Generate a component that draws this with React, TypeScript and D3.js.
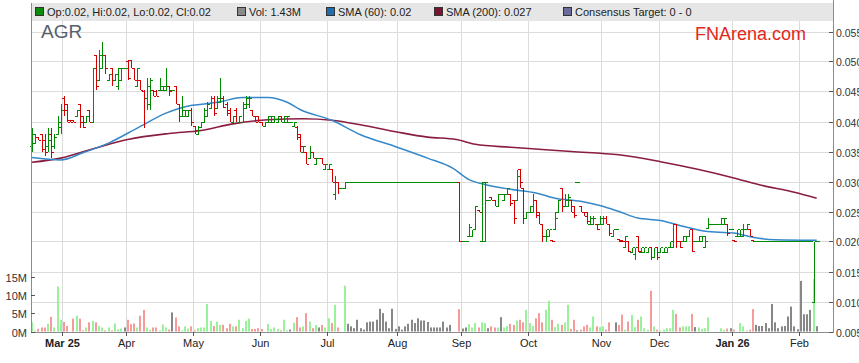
import { useEffect, useRef } from 'react'
import * as d3 from 'd3'

// daily bars, [open, high, low, close] in thousandths of a dollar (35 = $0.035)
const bars: number[][] = [
  [36, 39, 35, 38], [36.5, 38, 36.5, 37.5], [37.5, 37.5, 37, 37], [38, 38, 35, 35.5], [37, 38, 34.2, 35], [36, 39, 35, 37], [38, 39, 34, 35], [36, 38, 35.5, 37.5], [38, 41, 38, 40], [39, 43, 38, 42],
  [44, 44.2, 41, 42], [43, 43, 40, 40], [40.2, 40.2, 40, 40], [40.2, 40.2, 40, 40], [41, 42, 41, 42], [43, 43, 39, 40], [41, 41, 39, 39], [40, 41, 40, 41], [42, 42, 40, 40], [40, 49, 40, 49],
  [51, 51, 45.3, 46], [47, 52, 47, 51], [49, 53.3, 49, 51], [51, 51, 48, 49], [47, 48, 47, 48], [49, 49, 46, 47], [47, 48, 47, 48], [46, 49, 45.3, 49], [47, 49, 47, 49], [49, 49, 49, 49],
  [50, 50.3, 47, 47.2], [50.3, 50.3, 49, 49], [49, 49, 47, 47], [46, 49, 46, 49], [47, 47, 45.3, 45.3], [45, 45.3, 39, 44], [44, 47.2, 42, 46], [43, 47.2, 42, 47], [45.3, 45.3, 44.2, 44.2], [45, 45.3, 44.2, 44.2],
  [45.3, 47.2, 45.3, 46], [45.3, 46, 45.3, 46], [45.3, 49, 45.3, 46], [46, 46, 44.2, 45], [45.3, 45.3, 45.3, 45.3], [46, 46, 43, 43], [43, 43, 40, 41], [41, 44.2, 41, 42], [41, 42, 41, 42], [41, 42, 41, 42],
  [42, 42.2, 39.2, 40], [39.2, 39.2, 38, 38.5], [38, 39.2, 38, 39], [39, 40, 39, 40], [40, 42.2, 40, 42], [41, 43.2, 41, 43], [42.2, 44.2, 42.2, 44], [44, 44.2, 41, 41.5], [42.2, 44.2, 42.2, 44], [43.2, 47.2, 43.2, 44],
  [44, 44.2, 42.2, 42.5], [43, 43.2, 41, 41.5], [42, 42.2, 40, 40], [40, 41, 40, 41], [42, 42.2, 40, 40], [40, 41, 40, 41], [40, 43.2, 40, 43], [42.2, 44.2, 42.2, 44], [43, 44.2, 42.2, 44], [42, 42, 41, 41],
  [41, 41, 40, 40], [41, 41, 40, 40], [40, 40, 39.2, 39.2], [39.2, 40, 39.2, 40], [40, 41, 40, 41], [40, 41, 40, 41], [40, 41, 40, 40.5], [40, 41, 40, 41], [41, 41, 40, 40], [40, 41, 40, 41],
  [40, 41, 40, 41], [40, 40, 40, 40], [39.2, 40, 39.2, 40], [39, 39.2, 37, 37.5], [38, 38, 35, 36], [35, 36, 35, 36], [35, 35, 33, 33], [34, 36, 33.9, 35], [35, 35, 33.9, 34], [33, 34, 33, 34],
  [34, 34, 34, 34], [34, 34, 33, 33], [32, 33, 32, 33], [32, 33, 32, 33], [32, 32, 30, 30], [28, 31, 27, 30], [30, 30, 28, 29], [29, 29, 29, 29], [29, 30, 29, 30], [30, 30, 30, 30],
  [30, 30, 30, 30], [30, 30, 30, 30], [30, 30, 30, 30], [30, 30, 30, 30], [30, 30, 30, 30], [30, 30, 30, 30], [30, 30, 30, 30], [30, 30, 30, 30], [30, 30, 30, 30], [30, 30, 30, 30],
  [30, 30, 30, 30], [30, 30, 30, 30], [30, 30, 30, 30], [30, 30, 30, 30], [30, 30, 30, 30], [30, 30, 30, 30], [30, 30, 30, 30], [30, 30, 30, 30], [30, 30, 30, 30], [30, 30, 30, 30],
  [30, 30, 30, 30], [30, 30, 30, 30], [30, 30, 30, 30], [30, 30, 30, 30], [30, 30, 30, 30], [30, 30, 30, 30], [30, 30, 30, 30], [30, 30, 30, 30], [30, 30, 30, 30], [30, 30, 30, 30],
  [30, 30, 30, 30], [30, 30, 30, 30], [30, 30, 30, 30], [30, 30, 30, 30], [30, 30, 20, 20], [20, 20, 20, 20], [20, 20, 20, 20], [21, 23, 21, 22.5], [21, 22, 21, 22], [22, 26, 22, 26],
  [25.2, 25.2, 25, 25], [20, 30, 20, 30], [20, 30, 20, 30], [27, 27, 27, 27], [27.5, 27.5, 27, 27], [27, 27, 26, 26], [26, 28, 26, 28], [28, 28, 28, 28], [27, 28, 27, 28], [28, 29, 28, 29],
  [28, 28, 26, 26.5], [27, 27, 23, 24], [27, 32, 27, 31], [32, 32, 29, 30], [29, 29, 23, 24], [24, 25, 24, 25], [25, 26, 25, 26], [25, 28, 25, 27], [27, 27, 24, 24.5], [25, 25, 23, 23],
  [23, 23, 20, 21], [21, 22, 20, 22], [21, 22, 21, 22], [20.2, 20.2, 20, 20], [22, 25, 22, 24], [25, 27, 25, 27], [29, 29, 25, 26], [26, 28, 26, 27], [26, 28, 26, 27.5], [27, 27, 25, 25],
  [26, 26, 24, 24.5], [30, 30, 30, 30], [26, 26, 25, 25], [25, 25, 24.2, 24.2], [25, 25, 23, 23.5], [23, 24.2, 23, 24], [23, 24.2, 23, 24], [23, 23, 22, 22], [23, 24.2, 23, 24], [23, 24.2, 23, 24],
  [24, 24.2, 23, 23], [23, 23, 21, 21.5], [21, 22, 21, 22], [22, 22, 22, 22], [20.5, 20.5, 20, 20], [20.2, 20.2, 20, 20], [19, 21, 19, 21], [20, 20, 18.2, 18.5], [18.2, 19, 18.2, 19], [18, 19, 17, 19],
  [21, 21, 18.2, 18.5], [18.2, 19, 18.2, 19], [18.2, 19, 18.2, 19], [18.2, 19, 18.2, 19], [19, 19, 17, 17.5], [17.5, 19, 17.5, 19], [19, 19, 17, 17.5], [18.2, 19, 18.2, 19], [18.2, 19, 18.2, 19], [18.2, 19, 18.2, 19],
  [19, 20, 19, 20], [19, 23, 19, 23], [23, 23, 19, 20], [20, 20, 19, 19], [20, 21, 20, 21], [20, 21, 20, 21], [21, 22, 21, 22], [22, 22, 18.2, 18.5], [20, 20, 20, 20], [20, 21, 20, 21],
  [20, 21, 20, 21], [19, 21, 19, 20], [22.2, 24, 22.2, 23], [23, 23, 23, 23], [23, 23, 23, 23], [23, 23, 23, 23], [23, 24, 23, 24], [23, 24, 23, 24], [23, 23, 21, 21.5], [22, 22, 22, 22],
  [20.2, 20.2, 20, 20], [21, 22, 21, 22], [21, 22, 21, 22], [21, 23, 21, 22], [22, 23, 22, 23], [22, 22, 21, 21], [20.2, 20.2, 20, 20], [20, 20, 20, 20], [20, 20, 20, 20], [20, 20, 20, 20],
  [20, 20, 20, 20], [20, 20, 20, 20], [20, 20, 20, 20], [20, 20, 20, 20], [20, 20, 20, 20], [20, 20, 20, 20], [20, 20, 20, 20], [20, 20, 20, 20], [20, 20, 20, 20], [20, 20, 20, 20],
  [20, 20, 20, 20], [20, 20, 20, 20], [20, 20, 20, 20], [20, 20, 20, 20], [20, 20, 20, 20], [10, 20, 10, 20], [20, 20, 20, 20],
]

// daily volume, millions of shares
const volumes: number[] = [
  2.5, 0.3, 0.7, 1.1, 1.1, 2.1, 4.0, 1.1, 12.3, 3.2,
  2.6, 1.5, 0, 3.5, 4.3, 3.5, 0.3, 1.1, 2.5, 2.9,
  2.5, 1.5, 1.1, 0.3, 1.1, 0.3, 2.2, 0.6, 0.8, 1.1,
  3.2, 2.0, 2.2, 1.1, 4.3, 5.9, 1.1, 0.5, 1.1, 1.1,
  0.3, 1.9, 1.1, 0.5, 5.2, 3.8, 1.4, 0.3, 1.4, 0.8,
  1.4, 0.3, 0.9, 1.1, 1.1, 7.5, 2.9, 1.5, 2.7, 1.8,
  1.8, 0.9, 2.1, 1.4, 1.4, 3.2, 0.9, 2.9, 3.5, 0.7,
  0.7, 0.9, 0.7, 0, 2.1, 0.7, 1.1, 0.7, 0.3, 3.2,
  0.3, 0.5, 2.4, 3.9, 1.1, 1.4, 5.0, 2.7, 0.9, 1.8,
  1.1, 1.8, 1.1, 3.6, 2.3, 7.3, 1.1, 0, 12.5, 2.1,
  1.4, 0.9, 3.2, 0.9, 0.5, 2.5, 2.7, 2.7, 3.2, 6.2,
  5.0, 2.7, 0.9, 6.2, 0.7, 1.4, 0.5, 1.4, 2.1, 3.2,
  2.3, 3.6, 3.0, 3.0, 2.6, 1.1, 1.1, 1.1, 1.1, 2.7,
  1.1, 1.8, 0, 0, 6.1, 0.8, 1.1, 2.0, 1.1, 2.3,
  1.1, 2.5, 2.3, 0.9, 1.4, 1.1, 1.1, 3.9, 1.1, 1.5,
  2.1, 1.8, 3.0, 3.2, 2.5, 5.9, 2.3, 1.5, 3.6, 5.0,
  2.5, 5.9, 8.4, 3.2, 1.2, 2.1, 1.8, 2.5, 7.3, 0.7,
  3.2, 0.3, 0.5, 1.4, 1.8, 1.1, 4.1, 1.4, 1.2, 1.4,
  0.5, 2.5, 0, 2.5, 1.8, 4.6, 0.5, 2.7, 4.5, 1.2,
  3.2, 4.1, 0.9, 0.5, 11.1, 1.4, 0.5, 0.3, 0.5, 0.9,
  0.9, 5.9, 4.8, 1.1, 1.4, 1.4, 1.4, 4.8, 1.2, 1.1,
  0.7, 0.9, 3.8, 0, 0, 0, 0.9, 0.5, 0.8, 0.9,
  0.5, 0, 2.3, 1.4, 0.3, 0.5, 6.1, 1.8, 1.5, 1.5,
  2.3, 0.9, 7.5, 2.5, 0.9, 1.4, 1.5, 4.1, 6.8, 1.4,
  0.6, 13.8, 4.7, 4.7, 5.9, 14.3, 1.43,
]

// moving averages: [bar index, value in thousandths]
const sma60: number[][] = [
  [0, 34.0], [9, 33.6], [16, 34.8], [24, 36.4], [33, 38.9], [42, 41.4], [49, 42.6], [54, 42.9], [59, 43.3],
  [66, 44.0], [74, 44.0], [80, 43.2], [84, 42.0], [94, 40.2], [103, 37.8], [114, 35.8], [124, 33.9], [132, 32.2],
  [137, 30.3], [142, 29.5], [150, 28.7], [158, 28.1], [164, 27.2], [172, 26.7], [178, 26.0], [184, 25.0],
  [190, 23.9], [197, 23.5], [205, 22.4], [211, 21.7], [220, 21.4], [226, 20.7], [233, 20.3], [246, 20.2],
]
const sma200: number[][] = [
  [0, 33.2], [9, 33.9], [20, 35.6], [30, 37.0], [43, 38.0], [53, 38.5], [63, 39.6], [74, 40.3], [85, 40.45],
  [94, 40.2], [103, 39.45], [114, 38.3], [124, 37.4], [133, 37.0], [139, 36.2], [150, 35.7], [161, 35.3],
  [169, 35.0], [184, 34.45], [197, 33.3], [209, 32.0], [220, 30.6], [228, 29.45], [239, 28.2], [246, 27.2],
]

// first bar of each month
const months = [
  { label: 'Mar 25', i: 10, bold: true }, { label: 'Apr', i: 30 }, { label: 'May', i: 51 }, { label: 'Jun', i: 72 },
  { label: 'Jul', i: 93 }, { label: 'Aug', i: 115 }, { label: 'Sep', i: 135 }, { label: 'Oct', i: 156 },
  { label: 'Nov', i: 179 }, { label: 'Dec', i: 197 }, { label: 'Jan 26', i: 220, bold: true }, { label: 'Feb', i: 241 },
]
const priceTicks = [5, 10, 15, 20, 25, 30, 35, 40, 45, 50, 55]
const volumeTicks = [0, 5, 10, 15]

const legendItems = [
  { label: 'Op:0.02, Hi:0.02, Lo:0.02, Cl:0.02', color: '#0a8a0a', x: 35 },
  { label: 'Vol: 1.43M', color: '#8a8a8a', x: 237 },
  { label: 'SMA (60): 0.02', color: '#1f6db0', x: 326 },
  { label: 'SMA (200): 0.027', color: '#7a1430', x: 434 },
  { label: 'Consensus Target: 0 - 0', color: '#6a6c9c', x: 563 },
]

const FONT = "'Liberation Sans', Arial, sans-serif"

export default function App() {
  const svgRef = useRef<SVGSVGElement>(null)

  useEffect(() => {
    const width = 859
    const height = 363
    const left = 31
    const right = 833
    const top = 3
    const bottom = 331.5

    const svg = d3.select(svgRef.current)
      .attr('width', width)
      .attr('height', height)
    svg.selectAll('*').remove()

    const x = d3.scaleLinear().domain([0, 246]).range([32, 816.7])
    const y = d3.scaleLinear().domain([5, 55]).range([bottom, 31.5])
    const yVol = d3.scaleLinear().domain([0, 15]).range([bottom, bottom - 55])
    const px = (i: number) => Math.round(x(i)) + 0.5

    svg.append('rect').attr('width', width).attr('height', height).attr('fill', '#fff')

    // grid
    const grid = svg.append('g').attr('stroke', '#dcdcdc').attr('shape-rendering', 'crispEdges')
    grid.selectAll('line.h')
      .data(priceTicks.slice(1))
      .join('line')
      .attr('x1', left).attr('x2', right - 3)
      .attr('y1', d => Math.round(y(d)) + 0.5).attr('y2', d => Math.round(y(d)) + 0.5)
    grid.selectAll('line.v')
      .data(months)
      .join('line')
      .attr('x1', d => px(d.i - 0.5)).attr('x2', d => px(d.i - 0.5))
      .attr('y1', top).attr('y2', bottom)

    // legend band
    svg.append('rect')
      .attr('x', left).attr('y', top).attr('width', right - left).attr('height', 18)
      .attr('fill', '#e6e6e6')
    const leg = svg.append('g').attr('font-family', FONT).attr('font-size', 11)
    legendItems.forEach(d => {
      leg.append('rect')
        .attr('x', d.x + 0.5).attr('y', 7.5).attr('width', 8).attr('height', 8)
        .attr('fill', d.color).attr('stroke', '#333')
      leg.append('text').attr('x', d.x + 12).attr('y', 16).attr('fill', '#222').text(d.label)
    })

    // volume
    const dir = (b: number[]) => (b[3] > b[0] ? 1 : b[3] < b[0] ? -1 : 0)
    svg.append('g')
      .selectAll('rect')
      .data(volumes)
      .join('rect')
      .attr('x', (d, i) => Math.round(x(i)) - 1)
      .attr('y', d => yVol(d))
      .attr('width', 2)
      .attr('height', d => bottom - yVol(d))
      .attr('fill', (d, i) => {
        const s = dir(bars[i])
        return s > 0 ? '#99f299' : s < 0 ? '#f79a9a' : '#878787'
      })

    // moving averages
    const line = d3.line<number[]>()
      .x(d => x(d[0]))
      .y(d => y(d[1]))
      .curve(d3.curveMonotoneX)
    svg.append('path').attr('d', line(sma200)).attr('fill', 'none')
      .attr('stroke', '#8a1d42').attr('stroke-width', 1.6)
    svg.append('path').attr('d', line(sma60)).attr('fill', 'none')
      .attr('stroke', '#3588c9').attr('stroke-width', 1.5)

    // OHLC bars
    const ohlc = svg.append('g').attr('shape-rendering', 'crispEdges').attr('stroke-width', 1)
    bars.forEach((b, i) => {
      const cx = px(i)
      const col = b[3] >= b[0] ? '#008a00' : '#d40000'
      const g = ohlc.append('g').attr('stroke', col)
      if (b[1] !== b[2]) {
        g.append('line').attr('x1', cx).attr('x2', cx).attr('y1', y(b[1])).attr('y2', y(b[2]))
      }
      const yo = Math.round(y(b[0])) + 0.5
      const yc = Math.round(y(b[3])) + 0.5
      g.append('line').attr('x1', cx - 2.5).attr('x2', cx).attr('y1', yo).attr('y2', yo)
      g.append('line').attr('x1', cx).attr('x2', cx + 2.5).attr('y1', yc).attr('y2', yc)
    })

    // axes frame
    const frame = svg.append('g').attr('stroke', '#8c8c8c').attr('shape-rendering', 'crispEdges')
    frame.append('line').attr('x1', left + 0.5).attr('x2', left + 0.5).attr('y1', top).attr('y2', bottom + 1)
    frame.append('line').attr('x1', right + 0.5).attr('x2', right + 0.5).attr('y1', 0).attr('y2', bottom + 1)
    frame.append('line').attr('x1', left).attr('x2', right + 1).attr('y1', Math.round(bottom) + 0.5).attr('y2', Math.round(bottom) + 0.5)

    // right price axis (labels run past the frame edge, as in the original)
    const ra = svg.append('g').attr('font-family', FONT).attr('font-size', 10.5).attr('fill', '#333')
    priceTicks.forEach(t => {
      const yy = Math.round(y(t)) + 0.5
      ra.append('line').attr('x1', right - 4).attr('x2', right).attr('y1', yy).attr('y2', yy)
        .attr('stroke', '#555').attr('shape-rendering', 'crispEdges')
      ra.append('text').attr('x', right + 3).attr('y', yy + 4).text(d3.format('.3f')(t / 1000))
    })

    // left volume axis
    const la = svg.append('g').attr('font-family', FONT).attr('font-size', 11).attr('fill', '#333')
    volumeTicks.forEach(t => {
      const yy = Math.round(yVol(t)) + 0.5
      la.append('line').attr('x1', left).attr('x2', left + 4).attr('y1', yy).attr('y2', yy)
        .attr('stroke', '#555').attr('shape-rendering', 'crispEdges')
      la.append('text').attr('x', left - 4).attr('y', yy + 4).attr('text-anchor', 'end').text(t + 'M')
    })

    // month axis
    const ma = svg.append('g').attr('font-family', FONT).attr('font-size', 11).attr('fill', '#222')
    months.forEach(m => {
      const xx = px(m.i - 0.5)
      ma.append('line').attr('x1', xx).attr('x2', xx).attr('y1', bottom).attr('y2', bottom + 4)
        .attr('stroke', '#555').attr('shape-rendering', 'crispEdges')
      ma.append('text').attr('x', xx).attr('y', 347).attr('text-anchor', 'middle')
        .attr('font-weight', m.bold ? 'bold' : 'normal').text(m.label)
    })

    // titles
    svg.append('text').attr('x', 41).attr('y', 38).attr('font-family', FONT).attr('font-size', 19)
      .attr('fill', '#56606b').text('AGR')
    svg.append('text').attr('x', 695).attr('y', 40).attr('font-family', FONT).attr('font-size', 18)
      .attr('fill', '#e3261c').text('FNArena.com')
  }, [])

  return (
    <div style={{ position: 'absolute', left: 0, top: 0 }}>
      <svg ref={svgRef} style={{ display: 'block' }}></svg>
    </div>
  )
}
